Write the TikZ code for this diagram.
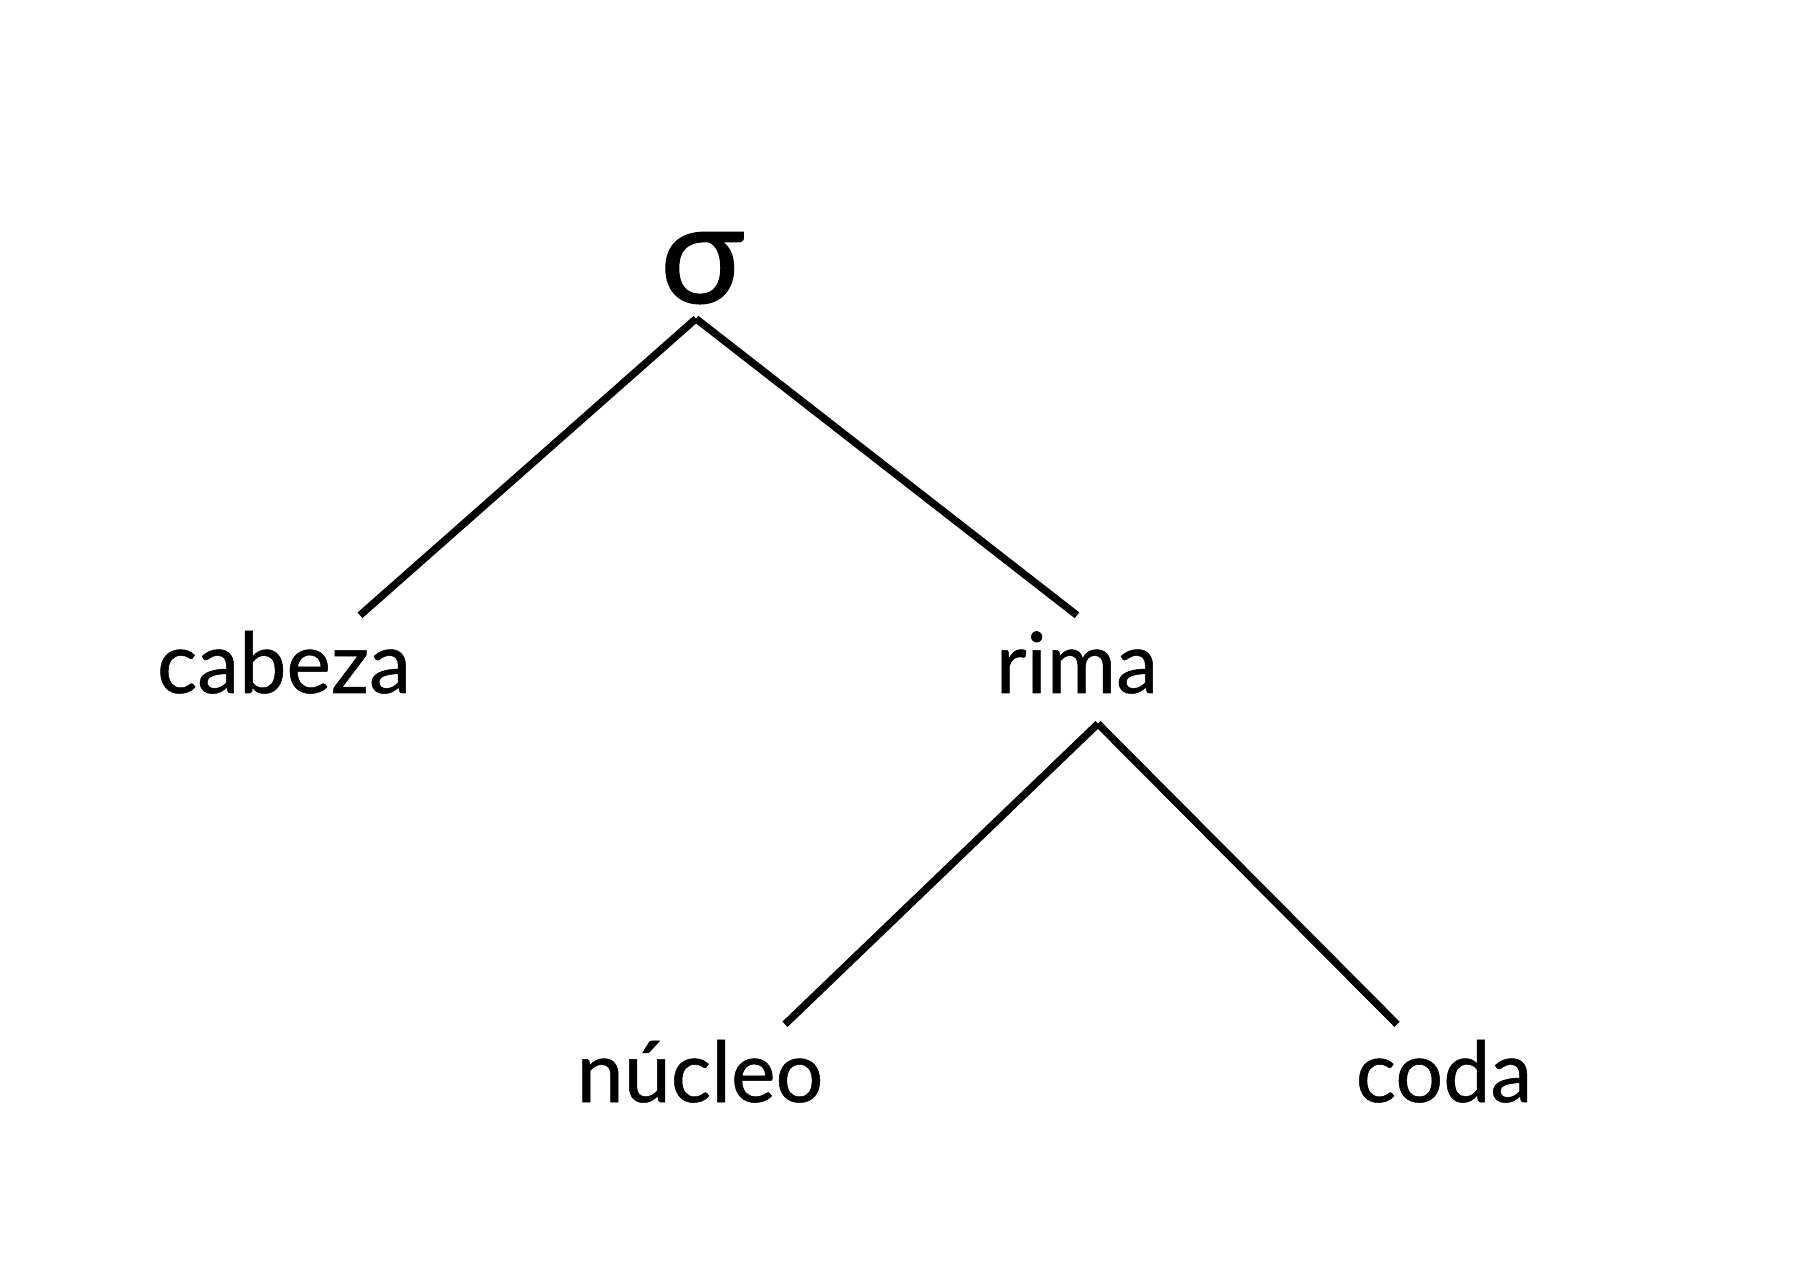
\documentclass[tikz,border=0pt]{standalone}
\usepackage{fontspec}
\setmainfont[FakeBold=0.6]{Lato}
\newfontfamily\sigmafont[FakeBold=0.8]{Lato}
\usetikzlibrary{positioning}
\tikzstyle{word}=[inner sep=1.2mm,text height=6.5mm,text depth=1.8mm,font=\fontsize{24}{28}\selectfont]
\tikzstyle{root}=[inner sep=1.5mm,text height=7.1mm,text depth=0mm,font=\sigmafont\fontsize{40}{46}\selectfont]
\tikzstyle{branch}=[line width=2.1pt]

\begin{document}
\begin{tikzpicture}[node distance=4cm,on grid]
\useasboundingbox (0,0) rectangle (17.94,12.72);
\node[root]   (sigma) at (7.02,10.045)                     {σ};
\node[word]   (cabeza) [below left=4.02cm and 4.18cm of sigma]  {cabeza};
\node[word]   (rima)   [below right=4.02cm and 3.75cm of sigma] {rima};
\node[word]   (nucleo) [below left=4.09cm and 3.77cm of rima]   {núcleo};
\node[word]   (coda)   [below right=4.09cm and 3.67cm of rima]  {coda};
\path[branch] ([xshift=-0.6mm]sigma.south) edge ([xshift=7.6mm]cabeza.north)
                                           edge (rima.north)
              ([xshift=2.1mm]rima.south)   edge ([xshift=8.5mm]nucleo.north)
                                           edge ([xshift=-4.7mm]coda.north);
\end{tikzpicture}
\end{document}
